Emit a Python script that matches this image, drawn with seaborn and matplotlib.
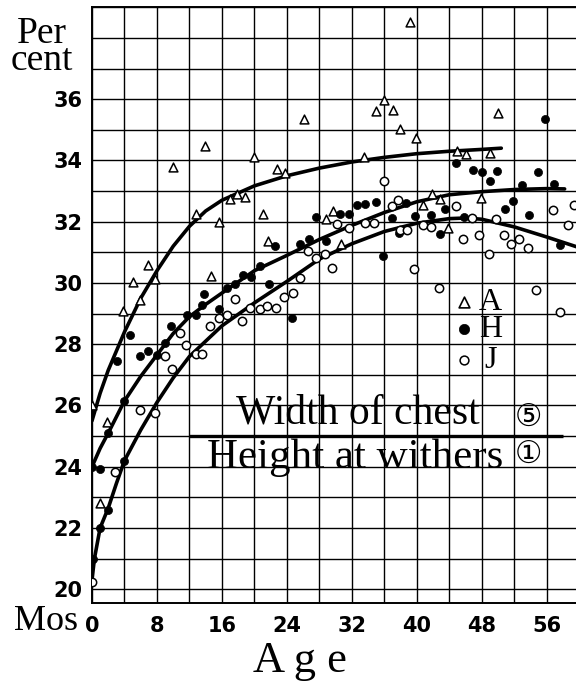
import matplotlib
matplotlib.use("Agg")
import matplotlib.pyplot as plt
import seaborn as sns

# ---------------- data ----------------
# fitted curves (age in months, per cent)
A_curve_x = [0, 1, 2, 4, 6, 8, 10, 12, 14, 16, 20, 24, 28, 32, 36, 40, 44, 48, 50.4]
A_curve_y = [25.5, 26.4, 27.15, 28.4, 29.5, 30.4, 31.2, 31.85, 32.35, 32.7, 33.17, 33.5,
             33.75, 33.95, 34.1, 34.22, 34.3, 34.36, 34.4]
H_curve_x = [0, 1, 2, 4, 6, 8, 10, 12, 14, 16, 20, 24, 28, 32, 36, 40, 44, 48, 52, 56, 58.2]
H_curve_y = [24.0, 24.6, 25.1, 26.15, 26.95, 27.65, 28.35, 28.9, 29.3, 29.67, 30.4, 30.9,
             31.42, 31.88, 32.3, 32.65, 32.88, 32.98, 33.05, 33.08, 33.07]
J_curve_x = [0, 0.3, 1, 2, 3, 4, 6, 8, 10, 12, 14, 16, 20, 24, 28, 32, 36, 40, 44, 46, 48,
             52, 56, 59.8]
J_curve_y = [20.3, 21.0, 22.0, 22.65, 23.45, 24.2, 25.2, 26.1, 26.9, 27.6, 28.1, 28.6, 29.35,
             30.05, 30.78, 31.28, 31.68, 31.95, 32.1, 32.12, 32.08, 31.83, 31.5, 31.17]

# observations: A (open triangles)
A_x = [0.0, 1.0, 1.9, 3.8, 5.0, 5.9, 6.9, 7.7, 10.0, 12.8, 13.9, 14.7, 15.7, 17.0, 17.8, 18.8,
       19.9, 21.1, 21.7, 22.8, 23.8, 26.1, 28.8, 29.7, 30.7, 33.5, 35.0, 36.0, 37.1, 37.9,
       39.1, 39.9, 40.8, 41.9, 42.9, 43.8, 45.0, 46.0, 49.0, 47.9, 50.0]
A_y = [26.0, 22.8, 25.47, 29.08, 30.03, 29.45, 30.6, 30.13, 33.8, 32.25, 34.48, 30.22, 31.98,
       32.75, 32.9, 32.8, 34.1, 32.25, 31.38, 33.72, 33.6, 35.35, 32.1, 32.35, 31.26, 34.1,
       35.6, 35.97, 35.64, 35.04, 38.53, 34.74, 32.55, 32.92, 32.75, 31.78, 34.3, 34.22,
       34.24, 32.78, 35.56]

# observations: H (filled dots)
H_x = [0.0, 1.0, 0.1, 1.0, 2.0, 4.0, 2.0, 4.0, 3.1, 4.7, 5.9, 6.95, 8.0, 9.0, 9.7, 11.7, 12.75,
       13.57, 13.85, 15.6, 16.6, 17.55, 18.6, 19.6, 20.7, 21.8, 22.5, 24.6, 25.67, 26.7,
       27.64, 28.8, 30.6, 31.7, 32.65, 33.67, 35.0, 35.8, 37.0, 37.8, 38.7, 39.8, 41.7,
       42.8, 43.5, 44.8, 45.8, 46.9, 48.0, 49.85, 48.95, 50.9, 51.9, 52.9, 53.8, 54.9,
       55.8, 56.9, 57.65]
H_y = [24.0, 23.93, 21.0, 22.0, 22.6, 24.2, 25.1, 26.15, 27.45, 28.3, 27.63, 27.78, 27.65,
       28.05, 28.6, 28.96, 28.96, 29.28, 29.63, 29.15, 29.85, 29.96, 30.26, 30.21, 30.55,
       29.96, 31.22, 28.87, 31.26, 31.44, 32.14, 31.37, 32.25, 32.25, 32.54, 32.57, 32.64,
       30.87, 32.12, 31.63, 32.6, 32.18, 32.23, 31.61, 32.4, 33.92, 32.15, 33.7, 33.62,
       33.64, 33.32, 32.42, 32.67, 33.2, 32.23, 33.62, 35.35, 33.24, 31.25]

# observations: J (open circles)
J_x = [0.0, 2.85, 5.9, 7.75, 9.0, 9.9, 10.8, 11.6, 12.75, 13.57, 14.47, 15.6, 16.6, 17.6,
       18.5, 19.5, 20.7, 21.6, 22.6, 23.6, 24.7, 25.6, 26.6, 27.6, 28.75, 29.5, 30.2, 31.6,
       33.67, 34.7, 35.9, 36.9, 37.7, 37.95, 38.8, 39.7, 40.7, 41.8, 42.7, 44.8, 45.7, 46.8,
       47.7, 48.9, 49.7, 50.7, 51.6, 52.6, 53.7, 54.7, 56.8, 57.6, 58.6, 59.3]
J_y = [20.25, 23.84, 25.85, 25.75, 27.6, 27.18, 28.38, 27.98, 27.67, 27.67, 28.58, 28.85,
       28.96, 29.47, 28.76, 29.17, 29.15, 29.26, 29.17, 29.55, 29.66, 30.17, 31.05, 30.83,
       30.94, 30.48, 31.91, 31.8, 31.95, 31.95, 33.33, 32.51, 32.72, 31.74, 31.72, 30.47,
       31.88, 31.83, 29.82, 32.5, 31.42, 32.12, 31.58, 30.96, 32.1, 31.55, 31.28, 31.42,
       31.15, 29.78, 32.39, 29.05, 31.9, 32.53]

# axis ticks
x_tick_values = [0, 8, 16, 24, 32, 40, 48, 56]
y_tick_values = [20, 22, 24, 26, 28, 30, 32, 34, 36]

# key (legend drawn inside the grid)
legend_labels = ["A", "H", "J"]
legend_y = [29.37, 28.49, 27.48]

title_upper = "Width of chest"
title_lower = "Height at withers"

# ---------------- drawing ----------------
sns.set_theme(style="white")
plt.rcParams["font.family"] = ["DejaVu Sans", "Noto Sans CJK JP"]

fig = plt.figure(figsize=(5.76, 6.87), dpi=100)
ax = fig.add_axes([92 / 576, 84 / 687, 484 / 576, 595.7 / 687])
ax.set_xlim(0, 59.6)
ax.set_ylim(19.55, 39.0)

# grid: every 4 months, every 1 per cent
ax.set_xticks(list(range(0, 60, 4)))
ax.set_xticklabels([str(v) if v in x_tick_values else "" for v in range(0, 60, 4)])
ax.set_yticks(list(range(20, 40)))
ax.set_yticklabels([str(v) if v in y_tick_values else "" for v in range(20, 40)])
ax.grid(True, color="black", linewidth=1.0)
ax.set_axisbelow(True)
ax.tick_params(length=0, labelsize=15, colors="black")
ax.tick_params(axis="x", pad=9)
ax.tick_params(axis="y", pad=7)
for lab in ax.get_xticklabels() + ax.get_yticklabels():
    lab.set_fontweight("bold")
for side in ["left", "top", "bottom"]:
    ax.spines[side].set_color("black")
    ax.spines[side].set_linewidth(1.4)
ax.spines["right"].set_visible(False)

# curves
for cx, cy in [(A_curve_x, A_curve_y), (H_curve_x, H_curve_y), (J_curve_x, J_curve_y)]:
    sns.lineplot(x=cx, y=cy, ax=ax, color="black", linewidth=2.6, sort=False,
                 estimator=None, solid_capstyle="round", zorder=2)

# observations
sns.scatterplot(x=A_x, y=A_y, ax=ax, marker="^", s=40, color="white", edgecolor="black",
                linewidth=1.1, zorder=3, legend=False)
sns.scatterplot(x=H_x, y=H_y, ax=ax, marker="o", s=34, color="black", edgecolor="black",
                linewidth=0.5, zorder=3, legend=False)
sns.scatterplot(x=J_x, y=J_y, ax=ax, marker="o", s=36, color="white", edgecolor="black",
                linewidth=1.1, zorder=3, legend=False)

# key
key_x = 45.8
sns.scatterplot(x=[key_x], y=[legend_y[0]], ax=ax, marker="^", s=60, color="white",
                edgecolor="black", linewidth=1.2, zorder=3, legend=False)
sns.scatterplot(x=[key_x], y=[legend_y[1]], ax=ax, marker="o", s=55, color="black",
                edgecolor="black", linewidth=0.5, zorder=3, legend=False)
sns.scatterplot(x=[key_x], y=[legend_y[2]], ax=ax, marker="o", s=40, color="white",
                edgecolor="black", linewidth=1.1, zorder=3, legend=False)
for lab, ly in zip(legend_labels, legend_y):
    ax.text(49.1, ly, lab, ha="center", va="center", fontsize=23,
            family=["Liberation Serif"], color="black", zorder=4)

# fraction label
ax.plot([12.0, 58.0], [25.0, 25.0], color="black", linewidth=2.4, zorder=2,
        solid_capstyle="butt")
ax.text(32.7, 25.12, title_upper, ha="center", va="bottom", fontsize=30,
        family=["Liberation Serif"], color="black", zorder=4)
ax.text(32.4, 24.92, title_lower, ha="center", va="top", fontsize=31,
        family=["Liberation Serif"], color="black", zorder=4)
ax.text(53.8, 25.6, "\u2464", ha="center", va="center", fontsize=22,
        family=["DejaVu Sans", "Noto Sans CJK JP"], color="black", zorder=4)
ax.text(53.8, 24.4, "\u2460", ha="center", va="center", fontsize=22,
        family=["DejaVu Sans", "Noto Sans CJK JP"], color="black", zorder=4)

# axis captions
fig.text(42 / 576, 1 - 70 / 687, "Per\ncent", ha="center", va="baseline", fontsize=27,
         multialignment="center", linespacing=0.72,
         family=["Liberation Serif"], color="black")
fig.text(46 / 576, 1 - 621 / 687, "Mos", ha="center", va="center", fontsize=26,
         family=["Liberation Serif"], color="black")
fig.text(300 / 576, 1 - 672 / 687, "A g e", ha="center", va="baseline", fontsize=32,
         family=["Liberation Serif"], color="black")

fig.savefig("out.png", dpi=100, facecolor="white")
